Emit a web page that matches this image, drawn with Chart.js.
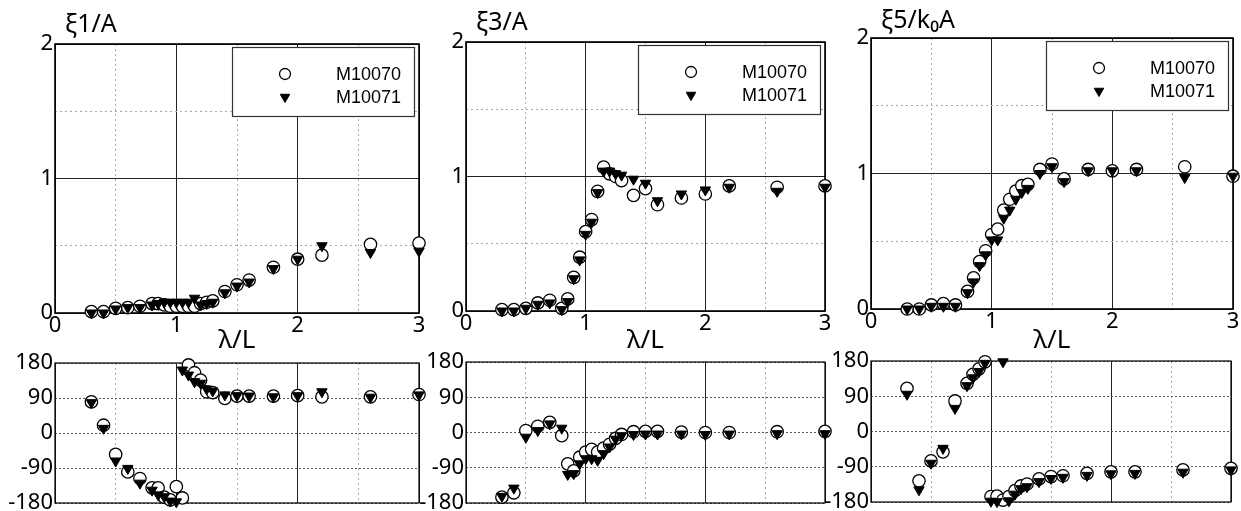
<!DOCTYPE html>
<html>
<head>
<meta charset="utf-8">
<script src="https://cdn.jsdelivr.net/npm/chart.js@4.4.0/dist/chart.umd.min.js"></script>
<style>
  html, body { margin: 0; padding: 0; background: #fff; overflow: hidden; }
  #wrap { position: relative; width: 1241px; height: 511px; overflow: hidden; background: #fff; }
  #wrap canvas { position: absolute; }
</style>
</head>
<body>
<div id="wrap"></div>
<script>
// wave length ratio, shared by every panel
const lambdaL = [0.3, 0.4, 0.5, 0.6, 0.7, 0.8, 0.85, 0.9, 0.95, 1.0, 1.05, 1.1,
                 1.15, 1.2, 1.25, 1.3, 1.4, 1.5, 1.6, 1.8, 2.0, 2.2, 2.6, 3.0];

const seriesNames = ['M10070', 'M10071'];

// amplitudes
const xi1_M10070 = [0.01, 0.01, 0.035, 0.04, 0.05, 0.07, 0.07, 0.06, 0.05, 0.05, 0.05, 0.05,
                    0.05, 0.07, 0.08, 0.09, 0.16, 0.21, 0.245, 0.34, 0.40, 0.43, 0.51, 0.52];
const xi1_M10071 = [0.0, 0.0, 0.03, 0.04, 0.04, 0.06, 0.07, 0.08, 0.08, 0.08, 0.08, 0.08,
                    0.11, 0.06, 0.07, 0.08, 0.15, 0.20, 0.23, 0.33, 0.40, 0.50, 0.45, 0.46];
const xi3_M10070 = [0.01, 0.01, 0.02, 0.06, 0.08, 0.02, 0.09, 0.25, 0.40, 0.59, 0.68, 0.89,
                    1.07, 1.02, 1.00, 0.97, 0.86, 0.91, 0.79, 0.84, 0.87, 0.93, 0.92, 0.93];
const xi3_M10071 = [0.0, 0.0, 0.02, 0.05, 0.06, 0.01, 0.07, 0.24, 0.38, 0.57, 0.66, 0.88,
                    1.04, 1.04, 1.02, 1.01, 0.98, 0.95, 0.82, 0.87, 0.90, 0.92, 0.89, 0.92];
const xi5_M10070 = [0.0, 0.0, 0.03, 0.04, 0.03, 0.13, 0.23, 0.35, 0.43, 0.55, 0.59, 0.73,
                    0.81, 0.87, 0.91, 0.92, 1.03, 1.07, 0.96, 1.03, 1.02, 1.03, 1.05, 0.98];
const xi5_M10071 = [0.0, 0.0, 0.02, 0.02, 0.02, 0.12, 0.20, 0.32, 0.40, 0.51, 0.51, 0.67,
                    0.73, 0.81, 0.86, 0.89, 1.00, 1.05, 0.94, 1.02, 1.02, 1.02, 0.97, 0.98];

// phases (deg)
const phase1_M10070 = [80, 20, -55, -100, -117, -141, -141, -165, -172, -138, -167, 175,
                       155, 136, 106, 104, 89, 95, 95, 95, 96, 93, 93, 99];
const phase1_M10071 = [78, 12, -72, -91, -129, -147, -159, -164, -175, -177, 162, 149,
                       132, 128, 113, 108, 98, 96, 95, 93, 96, 106, 92, 98];
const phase3_M10070 = [-165, -154, 5, 16, 26, -8, -80, -98, -63, -50, -43, -50,
                       -40, -30, -15, -5, 2, 3, 3, 1, 0, 0, 2, 3];
const phase3_M10071 = [-163, -142, -12, 5, 22, 11, -107, -105, -80, -67, -67, -71,
                       -54, -37, -17, -8, -5, -4, -4, -4, -5, -4, -3, -3];
const phase5_M10070 = [110, -126, -75, -52, 78, 123, 146, 160, 178, -166, -165, -175,
                       -166, -151, -139, -134, -121, -115, -113, -107, -103, -103, -98, -94];
const phase5_M10071 = [95, -149, -81, -43, 59, 117, 137, 153, 174, -178, -179, 178,
                       -177, -160, -146, -141, -128, -120, -117, -112, -108, -107, -104, -98];

// tick values
const lambdaTicks = [0, 1, 2, 3];
const lambdaMinorTicks = [0.5, 1.5, 2.5];
const ampTicks = [0, 1, 2];
const ampMinorTicks = [0.5, 1.5];
const phaseTicks = [-180, -90, 0, 90, 180];

const fontFamily = "'Noto Sans', 'DejaVu Sans', sans-serif";
const tickFont = { family: fontFamily, size: 22 };
const labelFont = '25px ' + fontFamily;

const framePlugin = {
  id: 'frame',
  beforeDatasetsDraw(chart, args, opts) {
    const { ctx, chartArea: a } = chart;
    ctx.save();
    ctx.strokeStyle = '#000';
    ctx.lineWidth = opts.width || 1.5;
    ctx.strokeRect(a.left, a.top, a.right - a.left, a.bottom - a.top);
    ctx.restore();
  }
};

const panelTitlePlugin = {
  id: 'panelTitle',
  afterDraw(chart, args, opts) {
    if (!opts.text) return;
    const { ctx, chartArea: a } = chart;
    ctx.save();
    ctx.font = labelFont;
    ctx.fillStyle = '#000';
    ctx.textBaseline = 'alphabetic';
    ctx.fillText(opts.text, a.left + opts.dx, a.top - opts.dy);
    ctx.restore();
  }
};

const insetLegendPlugin = {
  id: 'insetLegend',
  afterDatasetsDraw(chart, args, opts) {
    if (!opts.show) return;
    const { ctx, chartArea: a } = chart;
    const w = 182, h = 69;
    const x0 = a.right - 5 - w, y0 = a.top + 3;
    ctx.save();
    ctx.fillStyle = '#fff';
    ctx.fillRect(x0, y0, w, h);
    ctx.strokeStyle = '#333';
    ctx.lineWidth = 1.2;
    ctx.strokeRect(x0 + 0.5, y0 + 0.5, w, h);
    chart.data.datasets.forEach((ds, i) => {
      const cy = y0 + 27 + i * 23;
      ctx.fillStyle = ds.backgroundColor;
      ctx.strokeStyle = ds.borderColor;
      ctx.lineWidth = ds.borderWidth;
      Chart.helpers.drawPoint(ctx, {
        pointStyle: ds.pointStyle,
        rotation: ds.pointRotation || 0,
        radius: 5.5,
        borderWidth: ds.borderWidth
      }, x0 + 53, cy);
      ctx.fillStyle = '#000';
      ctx.font = "18px 'Liberation Sans', Arial, sans-serif";
      ctx.textBaseline = 'middle';
      ctx.fillText(ds.label, x0 + 104, cy + 1);
    });
    ctx.restore();
  }
};

function fixedTicks(values) {
  return axis => { axis.ticks = values.map(v => ({ value: v })); };
}

function pairData(xs, ys) {
  return xs.map((x, i) => ({ x: x, y: ys[i] }));
}

// box: canvas [left, top, w, h], area: plot [left, top, right, bottom]
const panels = [
  { box: [0, 0, 432, 356],   area: [55, 44, 419, 313],  kind: 'amp', title: 'ξ1/A', dy: 12, ys: [xi1_M10070, xi1_M10071] },
  { box: [411, 0, 427, 356], area: [466, 42, 825, 311], kind: 'amp', title: 'ξ3/A', dy: 12, ys: [xi3_M10070, xi3_M10071] },
  { box: [816, 0, 425, 356], area: [871, 38, 1233, 309], kind: 'amp', title: 'ξ5/k₀A', dy: 10, ys: [xi5_M10070, xi5_M10071] },
  { box: [0, 345, 432, 175],   area: [55, 363, 419, 503],  kind: 'phase', ys: [phase1_M10070, phase1_M10071] },
  { box: [411, 345, 427, 175], area: [466, 362, 825, 503], kind: 'phase', ys: [phase3_M10070, phase3_M10071] },
  { box: [816, 345, 425, 175], area: [871, 361, 1231, 502], kind: 'phase', ys: [phase5_M10070, phase5_M10071] }
];

const wrap = document.getElementById('wrap');

panels.forEach(p => {
  const [bx, by, bw, bh] = p.box;
  const [al, at, ar, ab] = p.area;
  const isAmp = p.kind === 'amp';
  const yAxisW = al - bx;
  const xAxisH = by + bh - ab;

  const canvas = document.createElement('canvas');
  canvas.width = bw;
  canvas.height = bh;
  canvas.style.left = bx + 'px';
  canvas.style.top = by + 'px';
  wrap.appendChild(canvas);

  const scales = {
    x: {
      type: 'linear', min: 0, max: 3,
      afterBuildTicks: fixedTicks(lambdaTicks),
      afterFit: s => { s.height = xAxisH; },
      grid: { color: '#222', lineWidth: 1, drawTicks: false },
      border: { display: false },
      ticks: { display: isAmp, color: '#000', font: tickFont, padding: 0, maxRotation: 0, autoSkip: false },
      title: { display: isAmp, text: 'λ/L', color: '#000', font: { family: fontFamily, size: 26 }, padding: 0 }
    },
    xMinor: {
      type: 'linear', position: 'bottom', min: 0, max: 3,
      afterBuildTicks: fixedTicks(lambdaMinorTicks),
      grid: { color: '#aaa', lineWidth: 1, drawTicks: false },
      border: { display: false, dash: [2, 3] },
      ticks: { display: false }
    },
    y: {
      type: 'linear',
      min: isAmp ? 0 : -180, max: isAmp ? 2 : 180,
      afterBuildTicks: fixedTicks(isAmp ? ampTicks : phaseTicks),
      afterFit: s => { s.width = yAxisW; },
      grid: { color: isAmp ? '#222' : '#555', lineWidth: 1, drawTicks: false },
      border: { display: false, dash: isAmp ? [] : [2, 2] },
      ticks: { color: '#000', font: tickFont, padding: 2, autoSkip: false }
    }
  };
  if (isAmp) {
    scales.yMinor = {
      type: 'linear', position: 'left', min: 0, max: 2,
      afterBuildTicks: fixedTicks(ampMinorTicks),
      grid: { color: '#aaa', lineWidth: 1, drawTicks: false },
      border: { display: false, dash: [2, 3] },
      ticks: { display: false }
    };
  }

  new Chart(canvas, {
    type: 'scatter',
    data: {
      datasets: [
        {
          label: seriesNames[0],
          data: pairData(lambdaL, p.ys[0]),
          pointStyle: 'circle', pointRadius: 6.2,
          backgroundColor: '#fff', borderColor: '#000', borderWidth: 1.3,
          clip: false, order: 2
        },
        {
          label: seriesNames[1],
          data: pairData(lambdaL, p.ys[1]),
          pointStyle: 'triangle', pointRotation: 180, pointRadius: 6,
          backgroundColor: '#000', borderColor: '#000', borderWidth: 1,
          clip: false, order: 1
        }
      ]
    },
    options: {
      responsive: false,
      animation: false,
      devicePixelRatio: 1,
      events: [],
      layout: { padding: { left: 0, top: at - by, right: bx + bw - ar, bottom: 0 } },
      scales: scales,
      plugins: {
        legend: { display: false },
        tooltip: { enabled: false },
        frame: { width: isAmp ? 1.6 : 1.2 },
        panelTitle: { text: p.title, dx: 10, dy: p.dy },
        insetLegend: { show: isAmp }
      }
    },
    plugins: [framePlugin, panelTitlePlugin, insetLegendPlugin]
  });
});
</script>
</body>
</html>
